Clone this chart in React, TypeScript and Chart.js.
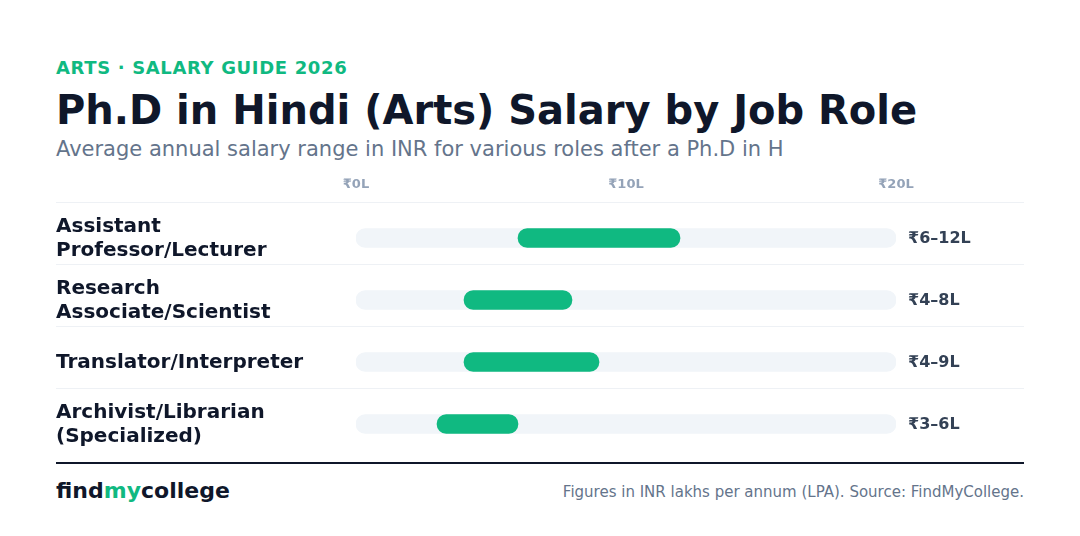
import React, { useEffect, useRef } from "react";
import { Chart, registerables } from "chart.js";

Chart.register(...registerables);

const kicker = "ARTS · SALARY GUIDE 2026";
const title = "Ph.D in Hindi (Arts) Salary by Job Role";
const subtitle = "Average annual salary range in INR for various roles after a Ph.D in H";
const footnote = "Figures in INR lakhs per annum (LPA). Source: FindMyCollege.";

const roles: string[][] = [
  ["Assistant", "Professor/Lecturer"],
  ["Research", "Associate/Scientist"],
  ["Translator/Interpreter"],
  ["Archivist/Librarian", "(Specialized)"],
];
const minSalary = [6, 4, 4, 3];
const maxSalary = [12, 8, 9, 6];
const rangeLabels = ["₹6–12L", "₹4–8L", "₹4–9L", "₹3–6L"];
const axisMax = 20;
const axisTicks = [0, 10, 20];

const GREEN = "#10b981";
const FONT = "'DejaVu Sans', sans-serif";

const rowDecor = {
  id: "rowDecor",
  beforeDatasetsDraw(chart: any) {
    const { ctx, scales } = chart;
    const y = scales.y;
    ctx.save();
    ctx.strokeStyle = "#eef1f5";
    ctx.lineWidth = 1;
    roles.forEach((_, i) => {
      const py = Math.round(y.getPixelForValue(i) - 36) + 0.5;
      ctx.beginPath();
      ctx.moveTo(0, py);
      ctx.lineTo(chart.width, py);
      ctx.stroke();
    });
    ctx.restore();
  },
  afterDatasetsDraw(chart: any) {
    const { ctx, scales, chartArea } = chart;
    const y = scales.y;
    ctx.save();
    ctx.font = `bold 16px ${FONT}`;
    ctx.fillStyle = "#334155";
    ctx.textAlign = "left";
    ctx.textBaseline = "middle";
    rangeLabels.forEach((t, i) => {
      ctx.fillText(t, chartArea.right + 12, y.getPixelForValue(i) + 1);
    });
    ctx.restore();
  },
};

function SalaryChart() {
  const ref = useRef<HTMLCanvasElement>(null);
  useEffect(() => {
    if (!ref.current) return;
    const chart = new Chart(ref.current, {
      type: "bar",
      data: {
        labels: roles as any,
        datasets: [
          {
            data: maxSalary.map((v, i) => [minSalary[i], v]) as any,
            backgroundColor: GREEN,
            borderRadius: 10,
            borderSkipped: false,
            barThickness: 19,
            grouped: false,
            order: 0,
          },
          {
            data: roles.map(() => [0, axisMax]) as any,
            backgroundColor: "#f1f5f9",
            borderRadius: 10,
            borderSkipped: false,
            barThickness: 19,
            grouped: false,
            order: 1,
          },
        ],
      },
      options: {
        indexAxis: "y",
        animation: false,
        responsive: false,
        maintainAspectRatio: false,
        layout: { padding: { left: 0, right: 128, top: 0, bottom: 0 } },
        plugins: { legend: { display: false }, tooltip: { enabled: false } },
        scales: {
          x: {
            position: "top",
            min: 0,
            max: axisMax,
            afterBuildTicks: (s: any) => {
              s.ticks = axisTicks.map((v) => ({ value: v }));
            },
            afterFit: (s: any) => {
              s.height = 35;
              s.paddingLeft = 0;
              s.paddingRight = 0;
            },
            grid: { display: false, drawTicks: false },
            border: { display: false },
            ticks: {
              padding: 15,
              color: "#94a3b8",
              font: { family: FONT, size: 13, weight: "bold" },
              callback: (v: any) => `₹${v}L`,
            },
          },
          y: {
            afterFit: (s: any) => {
              s.width = 300;
              s.paddingTop = 0;
              s.paddingBottom = 0;
            },
            grid: { display: false, drawTicks: false },
            border: { display: false },
            ticks: {
              crossAlign: "far",
              labelOffset: 1,
              color: "#0f172a",
              font: { family: FONT, size: 20, weight: "bold", lineHeight: 1.2 },
            },
          },
        },
      },
      plugins: [rowDecor],
    } as any);
    return () => chart.destroy();
  }, []);
  return (
    <canvas
      ref={ref}
      width={968}
      height={283}
      style={{ position: "absolute", left: 56, top: 172, width: 968, height: 283 }}
    />
  );
}

export default function App() {
  const base: React.CSSProperties = {
    position: "absolute",
    left: 56,
    fontFamily: FONT,
    whiteSpace: "nowrap",
    margin: 0,
  };
  return (
    <div
      style={{
        position: "fixed",
        left: 0,
        top: 0,
        width: 1080,
        height: 536,
        background: "#ffffff",
        overflow: "hidden",
      }}
    >
      <div style={{ ...base, top: 56, fontSize: 18, lineHeight: "24px", fontWeight: "bold", color: GREEN, letterSpacing: "0.65px" }}>
        {kicker}
      </div>
      <div style={{ ...base, top: 86, fontSize: 40, lineHeight: "48px", fontWeight: "bold", color: "#0f172a" }}>
        {title}
      </div>
      <div style={{ ...base, top: 136, fontSize: 21, lineHeight: "26px", color: "#64748b" }}>{subtitle}</div>
      <SalaryChart />
      <div style={{ position: "absolute", left: 56, top: 462, width: 968, height: 2, background: "#0f172a" }} />
      <div style={{ ...base, top: 477, fontSize: 22, lineHeight: "28px", fontWeight: "bold", color: "#0f172a" }}>
        find<span style={{ color: GREEN }}>my</span>college
      </div>
      <div
        style={{
          ...base,
          left: undefined,
          right: 56,
          top: 482,
          fontSize: 15,
          lineHeight: "20px",
          color: "#64748b",
        }}
      >
        {footnote}
      </div>
    </div>
  );
}
